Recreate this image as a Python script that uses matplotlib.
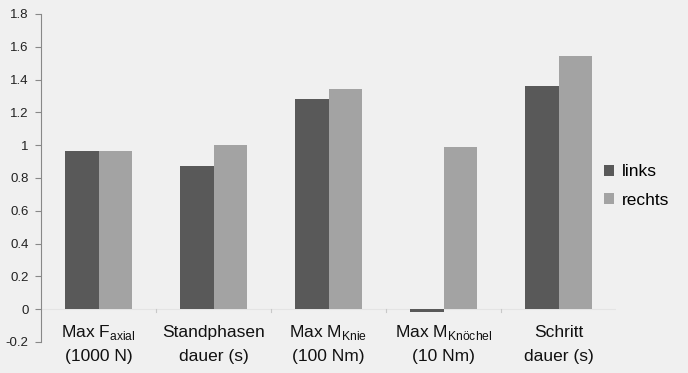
import matplotlib
matplotlib.use("Agg")
import matplotlib.pyplot as plt
import numpy as np

plt.rcParams['font.family'] = ['Liberation Sans', 'DejaVu Sans']
plt.rcParams['mathtext.fontset'] = 'custom'
plt.rcParams['mathtext.rm'] = 'Liberation Sans'

line1 = ["Max F$_{\\mathrm{axial}}$", "Standphasen", "Max M$_{\\mathrm{Knie}}$",
         "Max M$_{\\mathrm{Knöchel}}$", "Schritt"]
line2 = ["(1000 N)", "dauer (s)", "(100 Nm)", "(10 Nm)", "dauer (s)"]
links = [0.965, 0.875, 1.28, -0.015, 1.36]
rechts = [0.965, 1.0, 1.345, 0.99, 1.545]
yticks = [-0.2, 0, 0.2, 0.4, 0.6, 0.8, 1, 1.2, 1.4, 1.6, 1.8]
ytick_labels = ["-0.2", "0", "0.2", "0.4", "0.6", "0.8", "1", "1.2", "1.4", "1.6", "1.8"]

bg = "#f0f0f0"
fig = plt.figure(figsize=(6.88, 3.73), dpi=100, facecolor=bg)
ax = fig.add_axes([41/688, 1 - 342/373, (616-41)/688, (342-14)/373], facecolor=bg)

x = np.arange(len(links))
w = 0.287
ax.bar(x - w/2, links, w, color="#595959", label="links", zorder=3)
ax.bar(x + w/2, rechts, w, color="#a3a3a3", label="rechts", zorder=3)

ax.set_xlim(-0.5, len(links) - 0.5)
ax.set_ylim(-0.2, 1.8)
ax.set_yticks(yticks)
ax.set_yticklabels(ytick_labels, fontsize=9.5, color="#222222")
ax.tick_params(axis='y', length=4, width=0.8, color="#888888", direction='out', pad=5)
ax.set_xticks([])
for s in ['top', 'right', 'bottom']:
    ax.spines[s].set_visible(False)
ax.spines['left'].set_color("#888888")
ax.spines['left'].set_linewidth(0.8)

ax.axhline(0, color="#e4e4e4", lw=0.8, zorder=1)
for b in np.arange(0.5, len(links) - 0.5, 1):
    ax.plot([b, b], [0, -0.02], color="#c8c8c8", lw=0.8, zorder=1, clip_on=False)

for i in range(len(links)):
    ax.text(i, -0.171, line1[i], ha='center', va='baseline', fontsize=12.5,
            color="#111111", clip_on=False)
    ax.text(i, -0.317, line2[i], ha='center', va='baseline', fontsize=12.5,
            color="#111111", clip_on=False)

leg = ax.legend(loc='center left', bbox_to_anchor=(604/688, 1 - 186/373),
                bbox_transform=fig.transFigure, frameon=False, borderpad=0,
                borderaxespad=0, fontsize=12.5, handlelength=0.6, handleheight=0.6,
                handletextpad=0.45, labelspacing=0.75)

fig.savefig("out.png", dpi=100, facecolor=bg)
